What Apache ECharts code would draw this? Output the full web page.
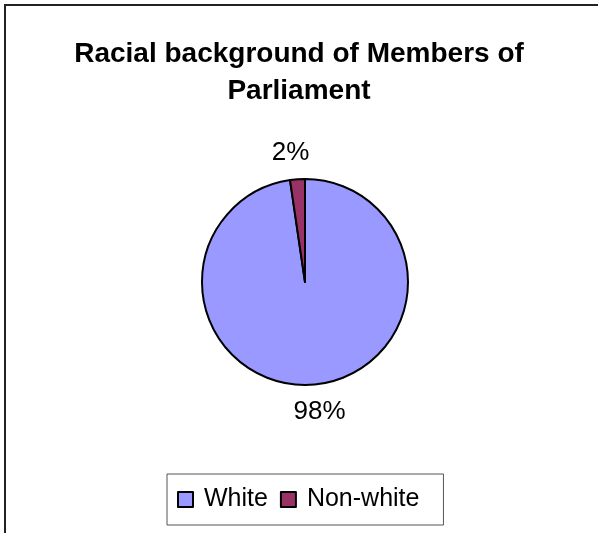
<!DOCTYPE html>
<html>
<head>
<meta charset="utf-8">
<script src="https://cdn.jsdelivr.net/npm/echarts@6/dist/echarts.min.js"></script>
<style>
html,body{margin:0;padding:0;background:#fff;}
#chart{width:598px;height:533px;}
</style>
</head>
<body>
<div id="chart"></div>
<script>
const titleText = 'Racial background of Members of\nParliament';
const categories = ['White', 'Non-white'];
const values = [631, 15];
const colors = ['#9999FF', '#993366'];

const chart = echarts.init(document.getElementById('chart'), null, {renderer: 'canvas'});
const font = '"Liberation Sans", Arial, sans-serif';

chart.setOption({
  animation: false,
  backgroundColor: '#ffffff',
  graphic: [{
    type: 'rect',
    shape: {x: 5, y: 5, width: 800, height: 800},
    style: {fill: 'none', stroke: '#222', lineWidth: 2},
    silent: true,
    z: 0
  }],
  title: {
    text: titleText,
    left: 'center',
    top: 31,
    textStyle: {fontFamily: font, fontSize: 28, fontWeight: 'bold', color: '#000', lineHeight: 37}
  },
  legend: {
    data: categories,
    left: 167,
    top: 474,
    orient: 'horizontal',
    icon: 'rect',
    itemWidth: 15,
    itemHeight: 15,
    itemGap: 12,
    padding: [13, 24, 13, 10],
    borderColor: '#555',
    borderWidth: 1,
    textStyle: {fontFamily: font, fontSize: 25, color: '#000', padding: [0, 0, 0, 6]}
  },
  series: [{
    type: 'pie',
    center: [305, 282],
    radius: 103,
    startAngle: 90,
    clockwise: true,
    data: categories.map((c, i) => ({name: c, value: values[i], itemStyle: {color: colors[i]}})),
    itemStyle: {borderColor: '#000', borderWidth: 2},
    label: {
      show: true,
      position: 'outside',
      formatter: (p) => Math.round(p.percent) + '%',
      fontFamily: font,
      fontSize: 26,
      color: '#000'
    },
    labelLine: {show: false, length: 27, length2: 0},
    labelLayout: {align: 'center', verticalAlign: 'middle'},
    emphasis: {disabled: true}
  }]
});
</script>
</body>
</html>
